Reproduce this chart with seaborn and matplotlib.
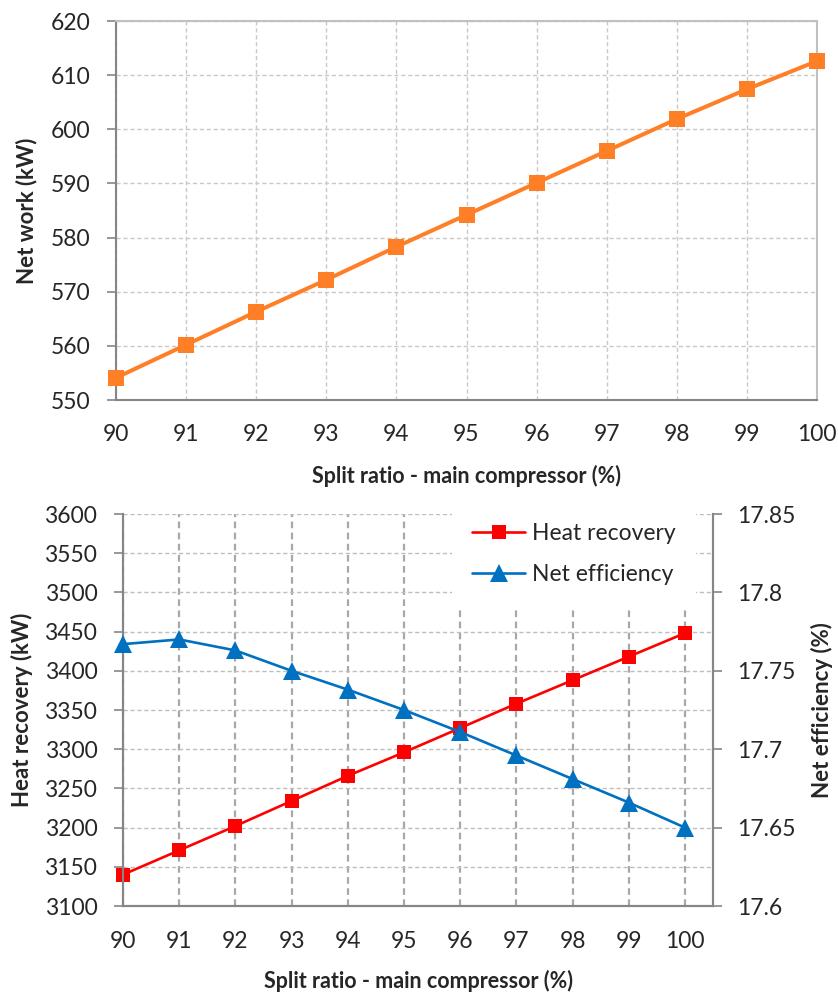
import matplotlib
matplotlib.use("Agg")
import matplotlib.pyplot as plt
import seaborn as sns
import pandas as pd

# Split ratio of the main compressor (%)
split_ratio = [90, 91, 92, 93, 94, 95, 96, 97, 98, 99, 100]
# Net work output (kW)
net_work = [554.1, 560.2, 566.3, 572.2, 578.3, 584.2, 590.1, 596.0, 601.9, 607.4, 612.6]
# Recovered heat (kW)
heat_recovery = [3140, 3171, 3202, 3234, 3266, 3296, 3327, 3358, 3388, 3418, 3448]
# Net efficiency (%)
net_efficiency = [17.767, 17.770, 17.763, 17.750, 17.738, 17.725, 17.711, 17.696, 17.681, 17.666, 17.650]

work_ticks = [550, 560, 570, 580, 590, 600, 610, 620]
heat_ticks = [3100, 3150, 3200, 3250, 3300, 3350, 3400, 3450, 3500, 3550, 3600]
eff_ticks = [17.6, 17.65, 17.7, 17.75, 17.8, 17.85]
eff_labels = ["17.6", "17.65", "17.7", "17.75", "17.8", "17.85"]

df = pd.DataFrame({"split": split_ratio, "work": net_work,
                   "heat": heat_recovery, "eff": net_efficiency})

sns.set_style("white")
plt.rcParams["font.family"] = ["Lato", "DejaVu Sans"]

SPINE = "#868686"
LIGHT = "#c8c8c8"
TICK_FS = 16.5
XLABEL_FS = 15.5
YLABEL_FS = 16

fig = plt.figure(figsize=(8.38, 9.97), dpi=100)

# ---------------- upper panel: net work ----------------
ax1 = fig.add_axes([116 / 838, 1 - 400 / 997, 701 / 838, 379 / 997])
sns.lineplot(data=df, x="split", y="work", ax=ax1, color="#ff7f27",
             linewidth=2.9, marker="s", markersize=11, markeredgewidth=0,
             clip_on=False, zorder=5)
ax1.set_xlim(90, 100)
ax1.set_ylim(550, 620)
ax1.set_xticks(split_ratio)
ax1.set_yticks(work_ticks)
ax1.grid(True, color=LIGHT, linestyle=(0, (3, 2)), linewidth=1.0)
for side in ["left", "bottom"]:
    ax1.spines[side].set_color(SPINE)
    ax1.spines[side].set_linewidth(1.5)
for side in ["right", "top"]:
    ax1.spines[side].set_color("#c0c0c0")
    ax1.spines[side].set_linewidth(1.5)
ax1.tick_params(axis="y", direction="out", length=6.5, width=1.2,
                color=SPINE, pad=12, labelsize=TICK_FS, left=True)
ax1.tick_params(axis="x", length=0, pad=17.5, labelsize=TICK_FS)
ax1.set_xlabel("Split ratio - main compressor (%)", fontsize=XLABEL_FS,
               fontweight="bold")
ax1.set_ylabel("Net work (kW)", fontsize=YLABEL_FS, fontweight="bold")
ax1.xaxis.set_label_coords(0.5, -0.172)
ax1.yaxis.set_label_coords(-0.112, 0.5)

# ---------------- lower panel: heat recovery & efficiency ----------------
ax2 = fig.add_axes([123 / 838, 1 - 906 / 997, 590 / 838, 392 / 997])
ax3 = ax2.twinx()
sns.lineplot(data=df, x="split", y="heat", ax=ax2, color="#ff0000",
             linewidth=1.9, marker="s", markersize=10, markeredgewidth=0,
             clip_on=False, zorder=5, label="Heat recovery", legend=False)
sns.lineplot(data=df, x="split", y="eff", ax=ax3, color="#0070c0",
             linewidth=1.9, marker="^", markersize=13, markeredgewidth=0,
             clip_on=False, zorder=5, label="Net efficiency", legend=False)
ax2.set_xlim(90, 100.5)
ax2.set_ylim(3100, 3600)
ax3.set_ylim(17.6, 17.85)
ax2.set_xticks(split_ratio)
ax2.set_yticks(heat_ticks)
ax3.set_yticks(eff_ticks)
ax3.set_yticklabels(eff_labels)

ax2.grid(False)
ax3.grid(False)
ax2.yaxis.grid(True, color="#bebebe", linestyle=(0, (3, 2)), linewidth=1.0)
ax2.xaxis.grid(True, color="#a8a8a8", linestyle=(0, (3, 2)), linewidth=1.6)
for a in (ax2, ax3):
    for side in ["left", "bottom", "right"]:
        a.spines[side].set_color(SPINE)
        a.spines[side].set_linewidth(1.5)
    a.spines["top"].set_visible(False)
ax2.tick_params(axis="y", direction="out", length=6.5, width=1.2,
                color=SPINE, pad=12, labelsize=TICK_FS, left=True)
ax3.tick_params(axis="y", direction="out", length=6.5, width=1.2,
                color=SPINE, pad=11, labelsize=TICK_FS, right=True)
ax2.tick_params(axis="x", length=0, pad=18, labelsize=TICK_FS)
ax2.set_xlabel("Split ratio - main compressor (%)", fontsize=XLABEL_FS,
               fontweight="bold")
ax2.set_ylabel("Heat recovery (kW)", fontsize=YLABEL_FS, fontweight="bold")
ax3.set_ylabel("Net efficiency (%)", fontsize=YLABEL_FS, fontweight="bold")
ax2.xaxis.set_label_coords(0.5, -0.163)
ax2.yaxis.set_label_coords(-0.152, 0.5)
ax3.yaxis.set_label_coords(1.166, 0.5)

handles = ax2.get_lines()[:1] + ax3.get_lines()[:1]
leg = ax3.legend(handles, [h.get_label() for h in handles],
                 loc="upper left", bbox_to_anchor=(0.557, 1.029),
                 borderaxespad=0, fontsize=TICK_FS, frameon=True,
                 facecolor="white", edgecolor="none", framealpha=1,
                 fancybox=False, handlelength=2.3, handletextpad=0.3,
                 labelspacing=0.86, borderpad=0.9)
leg.set_zorder(20)

fig.savefig("out.png", dpi=100)
